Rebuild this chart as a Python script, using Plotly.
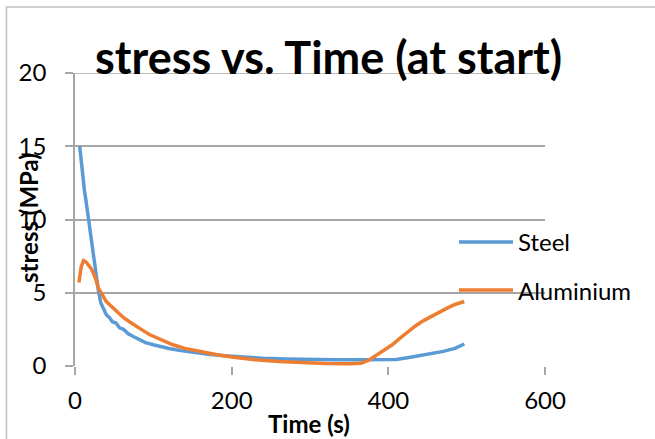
import plotly.graph_objects as go

# ---- data -------------------------------------------------------------
series_names = ["Steel", "Aluminium"]
series_colors = ["#5B9BD5", "#ED7D31"]

steel_time = [6, 8, 10, 12, 14, 16, 18, 20, 22, 24, 26, 28, 30, 33, 36, 40, 44,
              48, 52, 57, 62, 68, 75, 82, 90, 100, 110, 120, 135, 150, 170, 190,
              210, 240, 270, 300, 330, 360, 390, 410, 430, 450, 470, 485, 497]
steel_stress = [15.0, 13.9, 12.9, 12.0, 11.3, 10.6, 10.0, 9.1, 8.2, 7.4, 6.6, 5.8,
                5.1, 4.3, 3.9, 3.5, 3.3, 3.0, 2.95, 2.6, 2.5, 2.2, 2.0, 1.8, 1.6,
                1.45, 1.3, 1.2, 1.05, 0.92, 0.8, 0.7, 0.62, 0.53, 0.47, 0.43, 0.42,
                0.42, 0.43, 0.45, 0.62, 0.8, 1.0, 1.2, 1.5]

alu_time = [5, 8, 11, 14, 17, 20, 23, 26, 30, 35, 40, 45, 50, 55, 62, 70, 78, 86,
            95, 105, 115, 125, 140, 160, 180, 200, 230, 260, 290, 320, 350, 365,
            375, 385, 395, 405, 415, 425, 435, 445, 455, 465, 475, 485, 497]
alu_stress = [5.7, 6.8, 7.2, 7.1, 6.9, 6.7, 6.4, 6.0, 5.3, 4.8, 4.4, 4.15, 3.9,
              3.65, 3.3, 3.0, 2.7, 2.45, 2.15, 1.9, 1.65, 1.45, 1.2, 0.97, 0.78,
              0.62, 0.42, 0.3, 0.22, 0.17, 0.15, 0.18, 0.4, 0.75, 1.1, 1.45, 1.9,
              2.35, 2.75, 3.1, 3.4, 3.7, 3.95, 4.2, 4.4]

x_ticks = [0, 200, 400, 600]
y_ticks = [0, 5, 10, 15, 20]

chart_title = "stress vs. Time (at start)"
x_title = "Time (s)"
y_title = "stress (MPa)"

# ---- figure -----------------------------------------------------------
FONT = "Lato"
GRID = "#A6A6A6"

fig = go.Figure()
for name, color, t, s in zip(series_names, series_colors,
                             [steel_time, alu_time], [steel_stress, alu_stress]):
    fig.add_trace(go.Scatter(x=t, y=s, mode="lines", name=name,
                             line=dict(color=color, width=3.5),
                             showlegend=False))

fig.update_layout(
    width=655, height=439, autosize=False,
    margin=dict(l=75, r=110, t=73, b=73),
    paper_bgcolor="white", plot_bgcolor="white",
    font=dict(family=FONT, size=24, color="black"),
)

fig.update_xaxes(
    range=[0, 600], tickvals=x_ticks, showgrid=False, zeroline=False,
    showline=False, ticks="outside", ticklen=8, tickwidth=1.5, tickcolor=GRID,
    ticklabelstandoff=5, tickfont=dict(size=24, family=FONT),
)
fig.update_yaxes(
    range=[0, 20], tickvals=y_ticks, showgrid=True, gridcolor=GRID,
    gridwidth=1.5, zeroline=False, showline=True, linecolor=GRID,
    linewidth=1.5, ticks="outside", ticklen=8, tickwidth=1.5, tickcolor=GRID,
    ticklabelstandoff=14, tickfont=dict(size=24, family=FONT),
)

# top gridline at the upper end of the value axis
fig.add_shape(type="line", xref="paper", yref="y", x0=0, x1=1,
              y0=y_ticks[-1], y1=y_ticks[-1],
              line=dict(color=GRID, width=1.5), layer="below")

# outer chart border (left and top edges visible)
fig.add_shape(type="rect", xref="paper", yref="paper",
              x0=(6.5 - 75) / 470, x1=(700 - 75) / 470,
              y0=(366 - 480) / 293, y1=(366 - 7) / 293,
              line=dict(color="#BFBFBF", width=1.5), layer="below")

# title and axis titles
fig.add_annotation(text="<b>%s</b>" % chart_title, xref="paper", yref="paper",
                   x=(328 - 75) / 470, y=(366 - 57) / 293, showarrow=False,
                   xanchor="center", yanchor="middle",
                   font=dict(size=45, family=FONT, color="black"))
fig.add_annotation(text="<b>%s</b>" % x_title, xref="paper", yref="paper",
                   x=(309 - 75) / 470, y=(366 - 423) / 293, showarrow=False,
                   xanchor="center", yanchor="middle",
                   font=dict(size=24, family=FONT, color="black"))
fig.add_annotation(text="<b>%s</b>" % y_title, xref="paper", yref="paper",
                   x=(28 - 75) / 470, y=(366 - 218) / 293, showarrow=False,
                   textangle=-90, xanchor="center", yanchor="middle",
                   font=dict(size=24, family=FONT, color="black"))

# legend entries
legend_y = [242, 290]
for name, color, py in zip(series_names, series_colors, legend_y):
    yp = (366 - py) / 293
    fig.add_shape(type="line", xref="paper", yref="paper",
                  x0=(459 - 75) / 470, x1=(513 - 75) / 470, y0=yp, y1=yp,
                  line=dict(color=color, width=3.5))
    fig.add_annotation(text=name, xref="paper", yref="paper",
                       x=(516 - 75) / 470, y=yp, showarrow=False,
                       xanchor="left", yanchor="middle",
                       font=dict(size=24, family=FONT, color="black"))

fig.write_html("out.html")
